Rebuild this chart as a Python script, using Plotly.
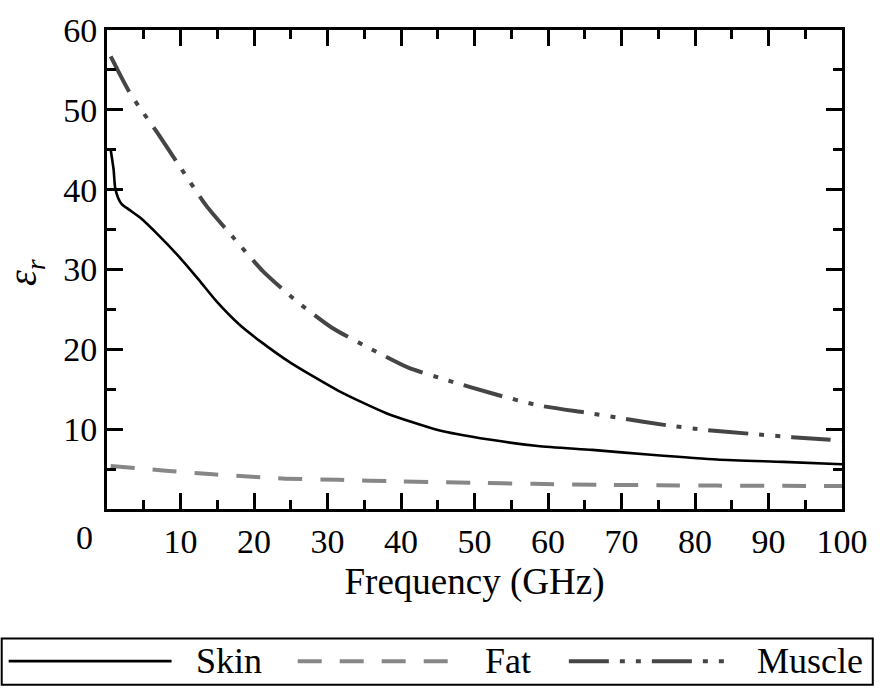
import plotly.graph_objects as go

# ---------------- data ----------------
skin_f = [0.5, 0.9, 1.1, 1.5, 2, 3, 4.5, 7, 10, 12.5, 15, 18, 21, 25, 31.5, 38, 45, 52, 58.6, 66, 74, 83, 92, 100]
skin_e = [45.0, 42.5, 40.3, 39.0, 38.2, 37.5, 36.5, 34.3, 31.4, 28.7, 25.9, 23.1, 20.9, 18.3, 14.8, 12.0, 9.9, 8.7, 7.9, 7.4, 6.8, 6.2, 5.9, 5.6]

fat_f = [0.5, 8, 14.4, 20.3, 24.3, 31.5, 40, 49.5, 58, 66.7, 75, 83, 92, 100]
fat_e = [5.4, 4.8, 4.35, 4.0, 3.8, 3.65, 3.45, 3.3, 3.15, 3.04, 2.97, 2.93, 2.9, 2.87]

muscle_f = [0.5, 1, 2, 3, 4.5, 6.8, 9.9, 13.5, 17.1, 21.2, 25.7, 30.6, 35.6, 41, 46.4, 52.7, 58.6, 65.3, 69.8, 76.1, 81.5, 87.8, 93.2, 100]
muscle_e = [56.7, 55.8, 54.0, 52.3, 50.2, 47.2, 42.9, 38.0, 34.1, 29.8, 26.1, 22.7, 20.2, 17.7, 16.1, 14.4, 13.0, 12.05, 11.4, 10.5, 9.9, 9.4, 9.0, 8.6]

x_ticks = [10, 20, 30, 40, 50, 60, 70, 80, 90, 100]
y_ticks = [10, 20, 30, 40, 50, 60]
series_names = ["Skin", "Fat", "Muscle"]

# ---------------- styles ----------------
FONT = "Liberation Serif"
W, H = 880, 690
ML, MR, MT, MB = 107, 33, 21, 181
PW, PH = W - ML - MR, H - MT - MB

styles = {
    "Skin": dict(color="black", width=2.6, dash="solid"),
    "Fat": dict(color="#878787", width=4, dash="24px,18px"),
    "Muscle": dict(color="#454545", width=4, dash="40px,11px,5px,11px,5px,11px"),
}

fig = go.Figure()
for name, xs, ys in [("Skin", skin_f, skin_e), ("Fat", fat_f, fat_e), ("Muscle", muscle_f, muscle_e)]:
    fig.add_trace(go.Scatter(x=xs, y=ys, mode="lines", name=name,
                             line=dict(shape="spline", smoothing=0.6, **styles[name]),
                             showlegend=False))

axis_common = dict(
    showline=True, linecolor="black", linewidth=3, mirror="ticks",
    ticks="inside", ticklen=16, tickwidth=3, tickcolor="black",
    showgrid=False, zeroline=False,
    tickfont=dict(family=FONT, size=34, color="black"),
    minor=dict(ticks="inside", ticklen=9, tickwidth=2.5, tickcolor="black", dtick=5),
)

fig.update_xaxes(range=[0, 100], tickvals=x_ticks, ticktext=[str(v) for v in x_ticks],
                 title=dict(text="Frequency (GHz)", font=dict(family=FONT, size=37, color="black"), standoff=10),
                 **axis_common)
fig.update_yaxes(range=[0, 60], tickvals=y_ticks, ticktext=[str(v) for v in y_ticks],
                 **axis_common)

def px2x(px):
    return (px - ML) / PW

def py2y(py):
    return (H - MB - py) / PH

annotations = [
    # x-axis origin label placed slightly left of the corner
    dict(x=0, y=0, xref="x", yref="y", text="0", showarrow=False, xshift=-23, yshift=-8,
         yanchor="top", xanchor="center", font=dict(family=FONT, size=34, color="black")),
    # y-axis title
    dict(x=px2x(25), y=py2y(268), xref="paper", yref="paper", text="<i>ε<sub>r</sub></i>",
         showarrow=False, textangle=-90, font=dict(family=FONT, size=40, color="black"),
         xanchor="center", yanchor="middle"),
]

shapes = [
    dict(type="rect", xref="paper", yref="paper", x0=px2x(1), x1=px2x(878), y0=py2y(641), y1=py2y(688),
         line=dict(color="black", width=2), fillcolor="rgba(0,0,0,0)"),
]

legend_layout = [("Skin", 8, 172, 195), ("Fat", 299, 451, 486), ("Muscle", 572, 736, 759)]
ly = 664
for name, l0, l1, tx in legend_layout:
    st = styles[name]
    shapes.append(dict(type="line", xref="paper", yref="paper", x0=px2x(l0), x1=px2x(l1),
                       y0=py2y(ly), y1=py2y(ly), line=dict(color=st["color"], width=st["width"], dash=st["dash"])))
    annotations.append(dict(x=px2x(tx), y=py2y(ly), xref="paper", yref="paper", text=name, showarrow=False,
                            xanchor="left", yanchor="middle", font=dict(family=FONT, size=36, color="black")))

fig.update_layout(
    width=W, height=H, margin=dict(l=ML, r=MR, t=MT, b=MB, pad=0),
    paper_bgcolor="white", plot_bgcolor="white",
    font=dict(family=FONT, color="black"),
    annotations=annotations, shapes=shapes, showlegend=False,
)

fig.write_html("out.html")
